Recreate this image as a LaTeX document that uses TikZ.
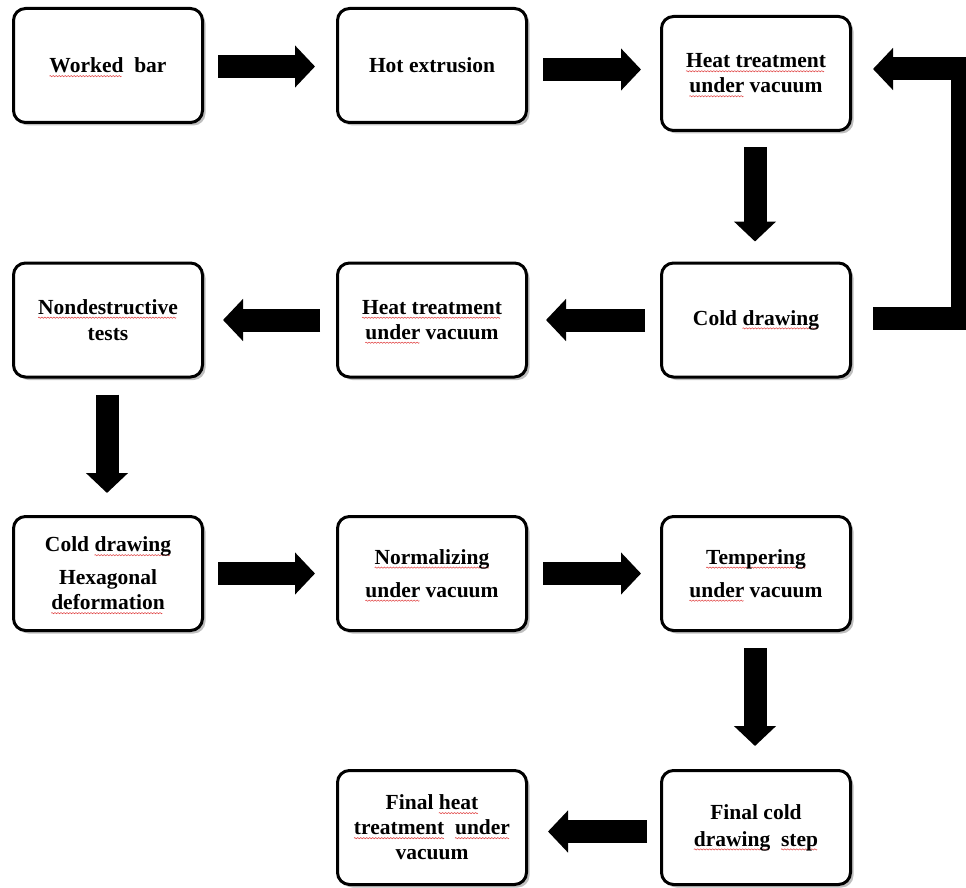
\documentclass[tikz,border=0pt]{standalone}
\usepackage{fontspec}
\setmainfont{Liberation Serif}
\usetikzlibrary{arrows.meta,shadows,calc}
\definecolor{wavered}{RGB}{225,70,70}
\newsavebox\wavebox
\newcommand\sq[1]{\setbox0=\hbox{#1}\rlap{\raisebox{-4pt}[0pt][0pt]{\hbox to\wd0{\leaders\copy\wavebox\hfill}}}\box0\relax}
\begin{document}
\sbox\wavebox{\begin{pgfpicture}%
\pgfpathrectangle{\pgfpoint{0pt}{-0.7pt}}{\pgfpoint{3pt}{1.4pt}}\pgfusepath{use as bounding box}%
\pgfsetcolor{wavered}\pgfsetlinewidth{0.55pt}%
\pgfpathmoveto{\pgfpoint{0pt}{0pt}}%
\pgfpathsine{\pgfpoint{0.75pt}{0.6pt}}\pgfpathcosine{\pgfpoint{0.75pt}{-0.6pt}}%
\pgfpathsine{\pgfpoint{0.75pt}{-0.6pt}}\pgfpathcosine{\pgfpoint{0.75pt}{0.6pt}}%
\pgfusepath{stroke}%
\end{pgfpicture}}%
\begin{tikzpicture}[x=1pt,y=-1pt,
  box/.style={draw, line width=3pt, rounded corners=12pt, fill=white,
    minimum width=189pt, minimum height=114pt, align=center, inner sep=2pt,
    font=\bfseries\fontsize{21.5}{25}\selectfont,
    drop shadow={shadow xshift=3pt, shadow yshift=-3pt, fill=black!55, opacity=0.45}},
  bigarrow/.style={line width=23pt, line join=miter,
    -{Triangle[length=20pt,width=41pt]}}]
\useasboundingbox[fill=white] (0,0) rectangle (966,888);
% row 1
\node[box] (b1) at (108,65.5) {\sq{Worked}~~bar};
\node[box] (b2) at (432,65.5) {Hot extrusion};
\node[box] (b3) at (756,73.5) {\sq{Heat treatment}\\\sq{under} vacuum};
% row 2
\node[box] (b4) at (108,320) {\sq{Nondestructive}\\[1pt]tests};
\node[box] (b5) at (432,320) {\sq{Heat treatment}\\\sq{under} vacuum};
\node[box] (b6) at (756,320) {Cold \sq{drawing}};
% row 3
\node[box] (b7) at (108,573.5) {Cold \sq{drawing}\\[8pt]Hexagonal\\\sq{deformation}};
\node[box] (b8) at (432,573.5) {\sq{Normalizing}\\[8pt]\sq{under} vacuum};
\node[box] (b9) at (756,573.5) {\sq{Tempering}\\[8pt]\sq{under} vacuum};
% row 4
\node[box] (b11) at (432,827.5) {Final \sq{heat}\\\sq{treatment}~~\sq{under}\\vacuum};
\node[box] (b10) at (756,827.5) {Final cold\\[2pt]\sq{drawing}~~\sq{step}};
% connectors
\draw[bigarrow] ($(b1.east)+(14,1)$) -- ($(b2.west)+(-21,1)$);
\path (b2.east) -- (b3.west) coordinate[pos=0.5] (m23);
\draw[bigarrow] ($(b2.east|-m23)+(15,0)$) -- ($(b3.west|-m23)+(-19,0)$);
\draw[bigarrow] ($(b3.south)+(-1,15)$) -- ($(b6.north)+(-1,-20)$);
\draw[bigarrow] ($(b6.west)+(-15,0)$) -- ($(b5.east)+(18,0)$);
\draw[bigarrow] ($(b5.west)+(-16,0)$) -- ($(b4.east)+(19,0)$);
\draw[bigarrow] ($(b4.south)+(-1,16)$) -- ($(b7.north)+(-1,-22)$);
\draw[bigarrow] ($(b7.east)+(14,0)$) -- ($(b8.west)+(-21,0)$);
\draw[bigarrow] ($(b8.east)+(15,0)$) -- ($(b9.west)+(-19,0)$);
\draw[bigarrow] ($(b9.south)+(-1,16)$) -- ($(b10.north)+(-1,-23)$);
\draw[bigarrow] ($(b10.west)+(-13,4)$) -- ($(b11.east)+(20,4)$);
\draw[bigarrow] ($(b6.east)+(21,-2)$) -- ++(89,0) |- ($(b3.east)+(21,-4.5)$);
\end{tikzpicture}
\end{document}
